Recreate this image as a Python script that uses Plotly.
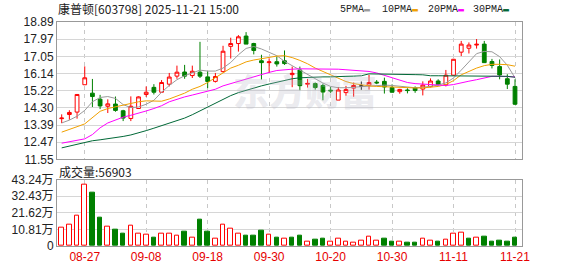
import plotly.graph_objects as go

dates = ["08-22", "08-25", "08-26", "08-27", "08-28", "08-29",
         "09-01", "09-02", "09-03", "09-04", "09-05",
         "09-08", "09-09", "09-10", "09-11", "09-12",
         "09-15", "09-16", "09-17", "09-18", "09-19",
         "09-22", "09-23", "09-24", "09-25", "09-26", "09-29", "09-30",
         "10-09", "10-10", "10-13", "10-14", "10-15", "10-16", "10-17",
         "10-20", "10-21", "10-22", "10-23", "10-24",
         "10-27", "10-28", "10-29", "10-30", "10-31",
         "11-03", "11-04", "11-05", "11-06", "11-07",
         "11-10", "11-11", "11-12", "11-13", "11-14",
         "11-17", "11-18", "11-19", "11-20", "11-21"]

opens = [13.73, 13.95, 14.08, 15.54, 15.09, 14.77, 14.39, 14.51, 14.15, 13.74,
         14.27, 15.02, 15.40, 15.14, 15.57, 16.00, 16.22, 16.03, 16.21, 15.96,
         15.72, 16.24, 17.59, 17.74, 18.14, 17.74, 16.82, 16.72, 16.77, 16.82,
         16.08, 16.33, 15.57, 15.60, 15.50, 15.25, 14.72, 15.12, 15.36, 15.47,
         15.52, 15.68, 15.72, 15.39, 15.17, 15.26, 15.38, 15.31, 15.44, 15.74,
         15.54, 16.05, 17.28, 17.49, 17.66, 17.71, 16.78, 16.51, 15.86, 15.45]
highs = [13.96, 14.18, 15.02, 16.52, 15.85, 15.00, 14.76, 14.91, 14.20, 14.92,
         14.92, 15.45, 15.57, 15.79, 16.17, 16.56, 16.60, 16.56, 17.83, 16.26,
         16.17, 17.62, 18.05, 18.19, 18.35, 17.78, 17.14, 16.95, 17.05, 17.37,
         16.51, 16.51, 15.85, 15.66, 15.60, 15.42, 15.42, 15.48, 15.66, 15.71,
         16.07, 15.79, 15.92, 15.56, 15.32, 15.35, 15.45, 15.72, 15.88, 15.83,
         16.33, 16.92, 17.88, 17.80, 17.98, 17.88, 16.92, 16.89, 16.10, 15.83]
lows = [13.49, 13.67, 13.73, 15.54, 14.35, 14.24, 14.03, 14.10, 13.60, 13.60,
        14.27, 14.89, 15.02, 15.14, 15.45, 15.86, 15.86, 15.90, 15.90, 15.36,
        15.66, 16.20, 16.94, 17.31, 17.71, 17.16, 15.82, 16.17, 16.51, 16.60,
        15.41, 15.25, 15.39, 15.28, 14.71, 15.09, 14.72, 14.95, 14.90, 15.27,
        15.28, 15.57, 15.07, 15.12, 15.06, 15.08, 15.11, 14.97, 15.40, 15.49,
        15.45, 16.03, 17.07, 17.21, 17.47, 16.70, 16.41, 15.83, 15.31, 14.46]
closes = [13.76, 14.06, 15.02, 15.91, 14.91, 14.41, 14.52, 14.17, 13.76, 14.39,
          14.89, 15.14, 15.14, 15.66, 15.95, 16.21, 16.00, 16.26, 16.00, 15.71,
          15.98, 17.33, 17.74, 18.10, 17.71, 17.37, 16.72, 16.76, 16.65, 16.67,
          16.15, 15.49, 15.61, 15.39, 15.15, 15.21, 15.26, 15.28, 15.50, 15.47,
          15.66, 15.64, 15.42, 15.14, 15.29, 15.23, 15.23, 15.52, 15.74, 15.55,
          16.05, 16.90, 17.71, 17.66, 17.70, 16.72, 16.57, 16.06, 15.57, 14.50]

ma5 = [13.50, 13.65, 13.86, 14.17, 14.63, 14.86, 14.91, 14.81, 14.48, 14.32,
       14.35, 14.50, 14.71, 15.14, 15.50, 15.81, 16.02, 16.17, 16.32, 16.27,
       16.27, 16.43, 16.73, 17.14, 17.48, 17.58, 17.45, 17.27, 17.09, 16.79,
       16.56, 16.34, 16.12, 15.88, 15.63, 15.45, 15.38, 15.38, 15.41, 15.42,
       15.45, 15.50, 15.52, 15.50, 15.46, 15.40, 15.38, 15.40, 15.45, 15.52,
       15.64, 15.90, 16.32, 16.79, 17.20, 17.32, 17.30, 17.04, 16.58, 15.91]
ma10 = [13.01, 13.14, 13.30, 13.45, 13.76, 14.12, 14.27, 14.37, 14.45, 14.53,
        14.63, 14.68, 14.68, 14.66, 14.78, 14.94, 15.09, 15.30, 15.45, 15.66,
        15.91, 16.17, 16.43, 16.58, 16.76, 16.86, 16.94, 17.02, 17.07, 17.09,
        16.99, 16.84, 16.66, 16.43, 16.25, 16.04, 15.86, 15.71, 15.60, 15.53,
        15.48, 15.45, 15.43, 15.40, 15.37, 15.37, 15.37, 15.37, 15.40, 15.45,
        15.55, 15.76, 16.07, 16.27, 16.43, 16.56, 16.63, 16.63, 16.61, 16.53]
ma20 = [12.42, 12.50, 12.58, 12.65, 12.88, 13.24, 13.50, 13.65, 13.81, 13.91,
        14.01, 14.14, 14.27, 14.42, 14.63, 14.78, 14.89, 14.99, 15.09, 15.19,
        15.30, 15.48, 15.60, 15.76, 15.86, 15.96, 16.09, 16.20, 16.30, 16.35,
        16.37, 16.39, 16.39, 16.39, 16.39, 16.39, 16.37, 16.34, 16.32, 16.30,
        16.25, 16.17, 16.04, 15.91, 15.76, 15.66, 15.60, 15.58, 15.53, 15.50,
        15.50, 15.55, 15.66, 15.73, 15.81, 15.91, 15.99, 15.99, 15.99, 15.96]
ma30 = [12.17, 12.27, 12.37, 12.47, 12.55, 12.60, 12.65, 12.70, 12.78, 12.86,
        12.96, 13.09, 13.22, 13.35, 13.47, 13.60, 13.76, 13.94, 14.14, 14.35,
        14.58, 14.78, 14.96, 15.12, 15.25, 15.35, 15.48, 15.58, 15.68, 15.78,
        15.86, 15.91, 15.94, 15.95, 15.96, 15.96, 15.99, 15.99, 16.00, 16.02,
        16.12, 16.12, 16.12, 16.12, 16.09, 16.08, 16.08, 16.07, 16.02, 16.02,
        16.02, 16.02, 16.02, 16.02, 16.02, 16.02, 16.02, 16.02, 15.99, 15.94]

volume_wan = [11.9, 14.2, 19.9, 40.1, 34.5, 18.2, 12.3, 10.7, 8.1, 13.0,
              7.9, 7.3, 5.6, 7.9, 7.9, 6.9, 9.4, 5.6, 17.1, 9.4,
              4.8, 13.6, 11.1, 7.9, 6.9, 6.9, 10.2, 7.5, 5.7, 5.0,
              5.7, 7.0, 3.1, 4.0, 5.1, 3.1, 4.5, 3.1, 2.4, 3.8,
              6.2, 3.8, 5.1, 3.1, 3.1, 2.5, 2.5, 4.5, 3.8, 3.1,
              4.4, 8.0, 8.8, 5.0, 5.6, 6.3, 3.1, 3.8, 3.1, 5.69]
vol_up = [1, 1, 1, 1, 0, 0, 1, 0, 0, 1,
          1, 1, 0, 1, 1, 1, 0, 1, 0, 0,
          1, 1, 1, 1, 0, 0, 0, 1, 0, 1,
          0, 0, 1, 0, 0, 1, 1, 1, 1, 1,
          1, 1, 0, 0, 1, 0, 0, 1, 1, 0,
          1, 1, 1, 0, 1, 0, 0, 0, 0, 0]

price_ticks = [11.55, 12.47, 13.39, 14.30, 15.22, 16.14, 17.05, 17.97, 18.89]
price_tick_text = ["11.55", "12.47", "13.39", "14.30", "15.22", "16.14", "17.05", "17.97", "18.89"]
vol_ticks = [0, 10.81, 21.62, 32.43, 43.24]
vol_tick_text = ["0", "10.81万", "21.62万", "32.43万", "43.24万"]
date_ticks = ["08-27", "09-08", "09-18", "09-30", "10-20", "10-30", "11-11", "11-21"]

title_text = "康普顿[603798] 2025-11-21 15:00"
vol_text = "成交量:56903"
ma_names = ["5PMA", "10PMA", "20PMA", "30PMA"]

RED = "#ff0000"
GREEN = "#008000"
MA_COLORS = ["#9a9a9a", "#f0a000", "#ff00ff", "#006837"]


def pick(seq, mask):
    return [v for v, m in zip(seq, mask) if m]


up = [c > o for o, c in zip(opens, closes)]
down = [c < o for o, c in zip(opens, closes)]
flat = [c == o for o, c in zip(opens, closes)]

fig = go.Figure()

for mask, line_c, fill_c in [(up, RED, "#ffffff"), (down, GREEN, GREEN), (flat, "#000000", "#000000")]:
    fig.add_trace(go.Candlestick(
        x=pick(dates, mask), open=pick(opens, mask), high=pick(highs, mask),
        low=pick(lows, mask), close=pick(closes, mask),
        increasing=dict(line=dict(color=line_c, width=1), fillcolor=fill_c),
        decreasing=dict(line=dict(color=line_c, width=1), fillcolor=fill_c),
        whiskerwidth=0, xaxis="x", yaxis="y", showlegend=False, hoverinfo="skip"))

for name, series, color in zip(ma_names, [ma5, ma10, ma20, ma30], MA_COLORS):
    fig.add_trace(go.Scatter(x=dates, y=series, mode="lines", name=name,
                             line=dict(color=color, width=1), xaxis="x", yaxis="y",
                             showlegend=False, hoverinfo="skip"))

vu = [bool(v) for v in vol_up]
vd = [not bool(v) for v in vol_up]
fig.add_trace(go.Bar(x=pick(dates, vu), y=pick(volume_wan, vu), width=0.6,
                     marker=dict(color="#ffffff", line=dict(color=RED, width=1)),
                     xaxis="x", yaxis="y2", showlegend=False, hoverinfo="skip"))
fig.add_trace(go.Bar(x=pick(dates, vd), y=pick(volume_wan, vd), width=0.6,
                     marker=dict(color=GREEN, line=dict(color=GREEN, width=1)),
                     xaxis="x", yaxis="y2", showlegend=False, hoverinfo="skip"))

W, H = 578, 276
ML, MR, MT, MB = 56, 56, 22, 21
PW, PH = W - ML - MR, H - MT - MB


def px(xp):
    return (xp - ML) / PW


def py(yp):
    return (H - MB - yp) / PH


tick_font = dict(family="Liberation Sans, Arial, Noto Sans CJK SC", size=12, color="#222222")

annotations = [
    dict(text=title_text, x=px(55), y=py(8), xref="paper", yref="paper",
         xanchor="left", yanchor="middle", showarrow=False,
         font=dict(family="Noto Sans CJK SC", size=12, color="#222222")),
    dict(text=vol_text, x=px(56), y=py(177), xref="paper", yref="paper",
         xanchor="left", yanchor="middle", showarrow=False,
         font=dict(family="Noto Sans CJK SC", size=12, color="#222222")),
    dict(text="东方财富", x=px(305), y=py(93), xref="paper", yref="paper",
         xanchor="center", yanchor="middle", showarrow=False,
         font=dict(family="Noto Sans CJK SC", size=36, color="rgba(185,185,200,0.30)", weight=900)),
]
legend_x = [338, 380, 426, 471]
for name, color, lx in zip(ma_names, MA_COLORS, legend_x):
    annotations.append(dict(
        text=name + "<span style='color:" + color + "'>▬</span>",
        x=px(lx), y=py(9), xref="paper", yref="paper", xanchor="left", yanchor="middle",
        showarrow=False, font=dict(family="Liberation Mono, DejaVu Sans Mono", size=10, color="#222222")))

fig.update_layout(
    width=W, height=H, margin=dict(l=ML, r=MR, t=MT, b=MB, pad=0),
    paper_bgcolor="#ffffff", plot_bgcolor="#ffffff",
    showlegend=False, bargap=0, boxgap=0.3,
    annotations=annotations,
    xaxis=dict(type="category", categoryorder="array", categoryarray=dates,
               range=[-0.61, 59.91], anchor="y2", domain=[0, 1],
               tickmode="array", tickvals=date_ticks, ticktext=date_ticks,
               tickfont=dict(family="Liberation Sans, Arial", size=12, color="#e60000"),
               ticks="", showgrid=True, gridcolor="#c8c8c8", griddash="4px,4px", gridwidth=1,
               showline=True, linecolor="#999999", linewidth=1, mirror="all",
               rangeslider=dict(visible=False), fixedrange=True, zeroline=False),
    yaxis=dict(domain=[py(165), 1], range=[11.55, 18.89], anchor="x",
               tickmode="array", tickvals=price_ticks, ticktext=price_tick_text,
               tickfont=tick_font, ticks="", showgrid=True, gridcolor="#d6d6d6", gridwidth=1,
               showline=True, linecolor="#999999", linewidth=1, mirror=True, zeroline=False),
    yaxis2=dict(domain=[0, py(186)], range=[0, 43.24], anchor="x",
                tickmode="array", tickvals=vol_ticks, ticktext=vol_tick_text,
                tickfont=tick_font, ticks="", showgrid=True, gridcolor="#d6d6d6", gridwidth=1,
                showline=True, linecolor="#999999", linewidth=1, mirror=True, zeroline=False),
)

fig.write_html("out.html", config={"displayModeBar": False})
